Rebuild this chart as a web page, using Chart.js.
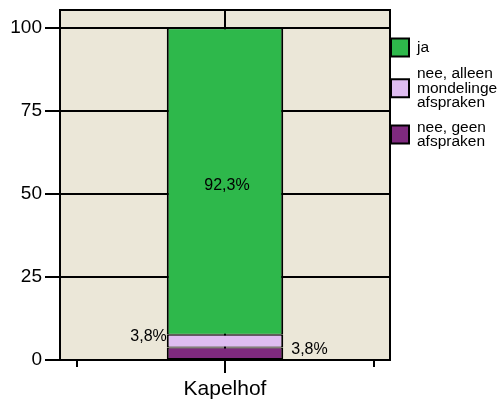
<!DOCTYPE html>
<html>
<head>
<meta charset="utf-8">
<script src="https://cdn.jsdelivr.net/npm/chart.js@4/dist/chart.umd.min.js"></script>
<style>
  html, body { margin: 0; padding: 0; background: #fff; }
  canvas { display: block; }
</style>
</head>
<body>
<canvas id="chart" width="500" height="403"></canvas>
<script>
// 데이터 (아래에서 위로 쌓이는 순서)
var categories = ["Kapelhof"];
var seriesNames = [["nee, geen", "afspraken"], ["nee, alleen", "mondelinge", "afspraken"], ["ja"]];
var seriesValues = [[3.8], [3.8], [92.3]];
var seriesLabels = ["3,8%", "3,8%", "92,3%"];
var seriesColors = ["#7F2A7F", "#DFBDF1", "#2EB84B"];
var yTicks = [0, 25, 50, 75, 100];

var FONT = "'Liberation Sans', Arial, Helvetica, sans-serif";

// 배경과 테두리, 보조 눈금
var framePlugin = {
  id: "frame",
  beforeDraw: function (chart) {
    var ctx = chart.ctx;
    var a = chart.chartArea;
    ctx.save();
    ctx.fillStyle = "#EBE7D8";
    ctx.fillRect(a.left, a.top, a.right - a.left, a.bottom - a.top);
    ctx.restore();
  },
  afterDraw: function (chart) {
    var ctx = chart.ctx;
    var a = chart.chartArea;
    ctx.save();
    ctx.strokeStyle = "#000";
    ctx.lineWidth = 2;
    ctx.strokeRect(a.left, a.top, a.right - a.left, a.bottom - a.top);
    // x축 작은 눈금
    ctx.beginPath();
    ctx.moveTo(a.left + 17, a.bottom);
    ctx.lineTo(a.left + 17, a.bottom + 7);
    ctx.moveTo(a.right - 16, a.bottom);
    ctx.lineTo(a.right - 16, a.bottom + 7);
    ctx.stroke();
    ctx.restore();
  },
};

// 막대 위 퍼센트 라벨
var labelPlugin = {
  id: "barLabels",
  afterDatasetsDraw: function (chart) {
    var ctx = chart.ctx;
    ctx.save();
    ctx.font = "16px " + FONT;
    ctx.fillStyle = "#000";
    ctx.textBaseline = "middle";
    chart.data.datasets.forEach(function (ds, i) {
      var meta = chart.getDatasetMeta(i);
      meta.data.forEach(function (bar) {
        var mid = (bar.y + bar.base) / 2;
        var left = bar.x - bar.width / 2;
        var right = bar.x + bar.width / 2;
        if (i === 0) {
          ctx.textAlign = "left";
          ctx.fillText(seriesLabels[i], right + 8, mid - 4);
        } else if (i === 1) {
          ctx.textAlign = "right";
          ctx.fillText(seriesLabels[i], left, mid - 4);
        } else {
          ctx.textAlign = "center";
          ctx.fillText(seriesLabels[i], bar.x + 2, mid + 4);
        }
      });
    });
    ctx.restore();
  },
};

// 범례 (위에서 아래로: ja, nee alleen, nee geen)
var legendPlugin = {
  id: "sideLegend",
  afterDraw: function (chart) {
    var ctx = chart.ctx;
    var a = chart.chartArea;
    var lineH = 14.5;
    var box = 18;
    var y0 = 38.5;
    ctx.save();
    ctx.font = "15.5px " + FONT;
    ctx.textBaseline = "middle";
    ctx.textAlign = "left";
    for (var i = chart.data.datasets.length - 1; i >= 0; i--) {
      var lines = seriesNames[i];
      var h = Math.max(box, lines.length * lineH);
      var cy = y0 + h / 2;
      ctx.fillStyle = seriesColors[i];
      ctx.fillRect(a.right + 1, cy - box / 2, box, box);
      ctx.strokeStyle = "#000";
      ctx.lineWidth = 2;
      ctx.strokeRect(a.right + 1, cy - box / 2, box, box);
      ctx.fillStyle = "#000";
      lines.forEach(function (t, k) {
        ctx.fillText(t, a.right + 27, cy + (k - (lines.length - 1) / 2) * lineH);
      });
      y0 += h + 10;
    }
    ctx.restore();
  },
};

var ctx = document.getElementById("chart").getContext("2d");
var chart = new Chart(ctx, {
  type: "bar",
  data: {
    labels: categories,
    datasets: seriesValues.map(function (vals, i) {
      return {
        label: seriesNames[i].join(" "),
        data: vals,
        backgroundColor: seriesColors[i],
        borderColor: "#000",
        borderWidth: { left: 2, right: 2, top: 1, bottom: 1 },
        borderSkipped: false,
        categoryPercentage: 1,
        barPercentage: 0.353,
      };
    }),
  },
  options: {
    responsive: false,
    animation: false,
    devicePixelRatio: 1,
    layout: { padding: { top: 10, right: 110, left: 0, bottom: 0 } },
    plugins: {
      legend: { display: false },
      tooltip: { enabled: false },
    },
    scales: {
      x: {
        stacked: true,
        grid: { offset: false, color: "#000", lineWidth: 2, tickLength: 13 },
        border: { display: false },
        ticks: { color: "#000", font: { family: FONT, size: 21 }, padding: 4 },
        afterFit: function (s) { s.height = 43; s.paddingLeft = 0; s.paddingRight = 0; },
      },
      y: {
        stacked: true,
        min: 0,
        max: 105.4,
        grid: { color: "#000", lineWidth: 2, tickLength: 15 },
        border: { display: false },
        ticks: { color: "#000", font: { family: FONT, size: 19 }, padding: 3 },
        afterBuildTicks: function (s) {
          s.ticks = yTicks.map(function (v) { return { value: v }; });
        },
        afterFit: function (s) { s.width = 60; s.paddingTop = 0; s.paddingBottom = 0; },
      },
    },
  },
  plugins: [framePlugin, labelPlugin, legendPlugin],
});
</script>
</body>
</html>
